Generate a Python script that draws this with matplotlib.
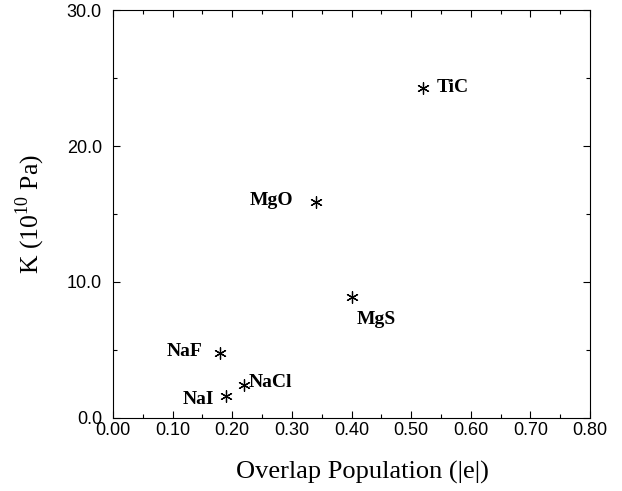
import matplotlib
matplotlib.use('Agg')
import matplotlib.pyplot as plt
from matplotlib.ticker import MultipleLocator, FormatStrFormatter

plt.rcParams['mathtext.fontset'] = 'custom'
plt.rcParams['mathtext.rm'] = 'Liberation Serif'

# 数据
names = ['TiC', 'MgO', 'MgS', 'NaF', 'NaCl', 'NaI']
overlap = [0.52, 0.34, 0.40, 0.18, 0.22, 0.19]
K = [24.3, 15.9, 8.9, 4.8, 2.4, 1.6]

# 标签偏移 (points) 和对齐
offsets = [(10, 0, 'left'), (-16, 1, 'right'), (4, -16, 'left'),
           (-13, 1, 'right'), (3, 2, 'left'), (-9, -2, 'right')]

fig = plt.figure(figsize=(6.22, 4.91), dpi=100)
ax = fig.add_axes([0.1817, 0.1487, 0.9486 - 0.1817, 0.9796 - 0.1487])

ax.scatter(overlap, K, marker=(6, 2, 0), s=70, c='black', linewidths=0.9)

for n, x, y, (dx, dy, ha) in zip(names, overlap, K, offsets):
    ax.annotate(n, (x, y), xytext=(dx, dy), textcoords='offset points',
                ha=ha, va='center', fontsize=14, fontweight='bold',
                family='Liberation Serif')

ax.set_xlim(0, 0.8)
ax.set_ylim(0, 30)
ax.xaxis.set_major_locator(MultipleLocator(0.1))
ax.xaxis.set_minor_locator(MultipleLocator(0.05))
ax.yaxis.set_major_locator(MultipleLocator(10))
ax.yaxis.set_minor_locator(MultipleLocator(5))
ax.xaxis.set_major_formatter(FormatStrFormatter('%.2f'))
ax.yaxis.set_major_formatter(FormatStrFormatter('%.1f'))
ax.tick_params(which='both', direction='in', top=True, right=True, width=0.8)
ax.tick_params(which='major', length=5, labelsize=13)
ax.tick_params(which='minor', length=3)
ax.tick_params(axis='y', pad=8)
ax.tick_params(axis='x', pad=3)
for lab in ax.get_xticklabels() + ax.get_yticklabels():
    lab.set_family('Liberation Sans')
for s in ax.spines.values():
    s.set_linewidth(0.8)

ax.set_xlabel('Overlap Population (|e|)', family='Liberation Serif',
              fontsize=19)
ax.xaxis.set_label_coords(0.523, -0.105)
ax.set_ylabel('K (10$^{10}$ Pa)', family='Liberation Serif',
              fontsize=18.5, labelpad=14)

fig.savefig('out.png', dpi=100)
